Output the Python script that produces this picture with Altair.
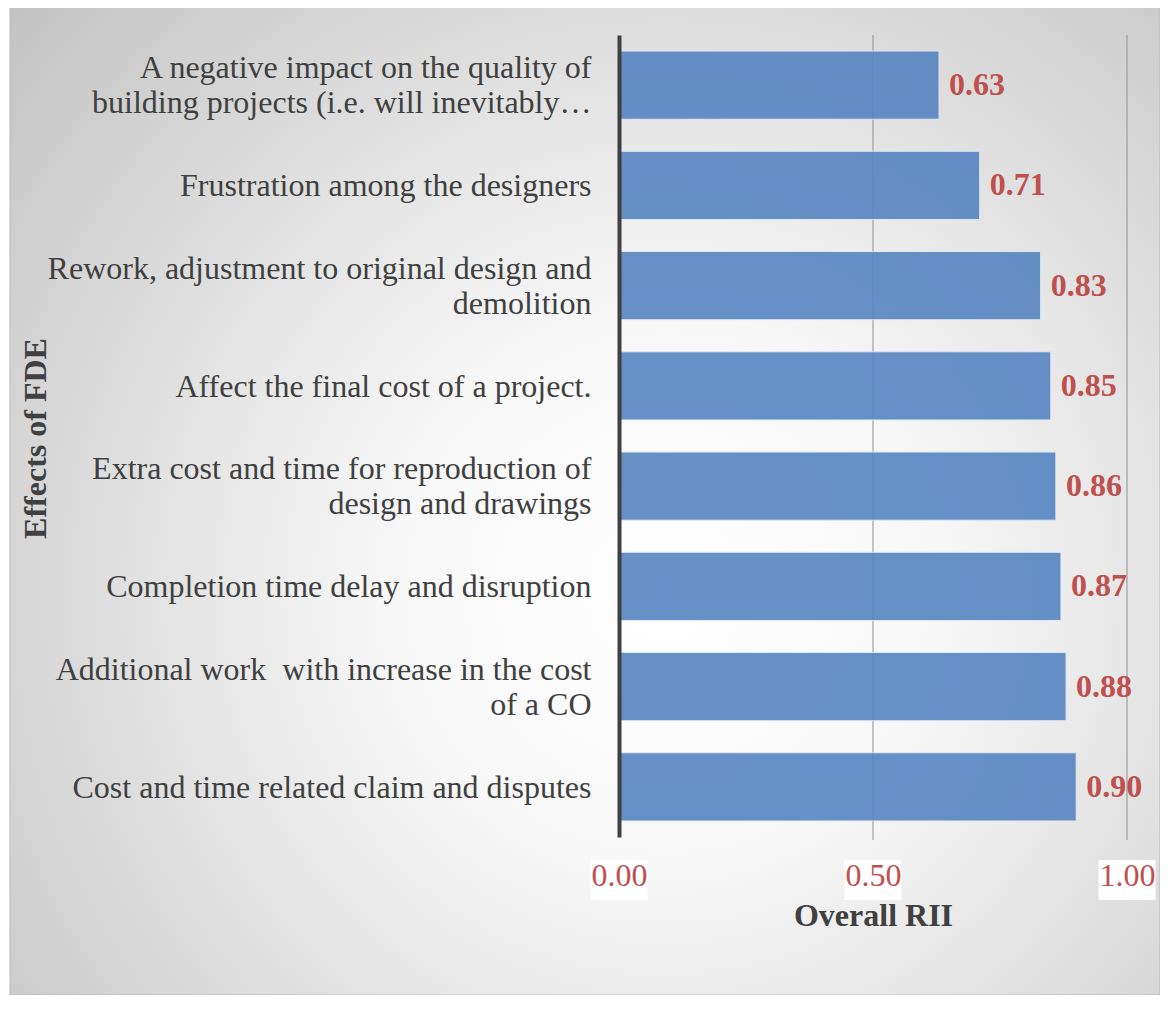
import altair as alt
import pandas as pd

categories = [
    "A negative impact on the quality of\nbuilding projects (i.e. will inevitably…",
    "Frustration among the designers",
    "Rework, adjustment to original design and\ndemolition",
    "Affect the final cost of a project.",
    "Extra cost and time for reproduction of\ndesign and drawings",
    "Completion time delay and disruption\u00a0",
    "Additional work\u00a0 with increase in the cost\nof a CO",
    "Cost and time related claim and disputes\u00a0",
]
rii = [0.63, 0.71, 0.83, 0.85, 0.86, 0.87, 0.88, 0.90]
tick_values = [0.0, 0.5, 1.0]
grid_values = [0.5, 1.0]

W, H = 508, 802
FONT = "Liberation Serif"
FS = 32
DARK = "#404040"
RED = "#c0504d"

df = pd.DataFrame({"effect": categories, "rii": rii})
xscale = alt.Scale(domain=[0, 1], nice=False)
yscale = alt.Scale(paddingInner=0.32, paddingOuter=0.16)

xaxis = alt.Axis(
    title="Overall RII",
    values=tick_values,
    format=".2f",
    domain=False,
    ticks=False,
    grid=False,
    labelFont=FONT,
    labelFontSize=FS,
    labelColor=RED,
    labelPadding=23,
    labelFlush=False,
    labelOverlap=False,
    titleFont=FONT,
    titleFontSize=FS,
    titleFontWeight="bold",
    titleColor=DARK,
    titlePadding=9,
    zindex=1,
)
yaxis = alt.Axis(
    title="Effects of FDE",
    domain=True,
    domainColor=DARK,
    domainWidth=4,
    ticks=False,
    grid=False,
    labelFont=FONT,
    labelFontSize=FS,
    labelColor=DARK,
    labelPadding=28,
    labelLimit=2000,
    labelLineHeight=35,
    labelExpr="split(datum.value, '\\n')",
    labelOffset={
        "condition": {"test": "indexof(datum.value, '\\n') >= 0", "value": -17},
        "value": 1,
    },
    titleFont=FONT,
    titleFontSize=FS,
    titleFontWeight="bold",
    titleColor=DARK,
    titleX=-584,
    titleY=H / 2 + 2,
    titleAngle=270,
    titleAlign="center",
    titleBaseline="middle",
    zindex=1,
)

bg = alt.Chart(alt.Data(values=[{}])).mark_rect(
    fill={
        "gradient": "radial",
        "x1": 0.57, "y1": 0.58, "r1": 0,
        "x2": 0.57, "y2": 0.58, "r2": 0.8,
        "stops": [
            {"offset": 0, "color": "#ffffff"},
            {"offset": 0.3, "color": "#f7f7f7"},
            {"offset": 1, "color": "#bfbfbf"},
        ],
    },
    stroke="#b8b8b8",
    strokeWidth=1,
).encode(x=alt.value(-609), x2=alt.value(W + 33), y=alt.value(-29), y2=alt.value(H + 158))

grid = alt.Chart(pd.DataFrame({"rii": grid_values})).mark_rule(
    color="#8f8f8f", strokeWidth=1
).encode(
    x=alt.X("rii:Q", scale=xscale, axis=xaxis),
    y=alt.value(0),
    y2=alt.value(H + 3),
)

boxes = alt.Chart(pd.DataFrame({"rii": tick_values})).mark_point(
    shape="M-1,-0.7L1,-0.7L1,0.7L-1,0.7Z",
    size=57 * 57,
    filled=True,
    fill="white",
    opacity=1,
    strokeWidth=0,
).encode(x=alt.X("rii:Q", scale=xscale, axis=xaxis), y=alt.value(845))

bars = alt.Chart(df).mark_bar(
    color="#5685c1", opacity=0.9, stroke="#dfe8f4", strokeWidth=1
).encode(
    y=alt.Y("effect:N", sort=None, scale=yscale, axis=yaxis),
    x=alt.X("rii:Q", scale=xscale, axis=xaxis),
)

text = alt.Chart(df).mark_text(
    align="left", baseline="middle", dx=10,
    font=FONT, fontSize=FS, fontWeight="bold", color=RED,
).encode(
    y=alt.Y("effect:N", sort=None, scale=yscale, axis=yaxis),
    x=alt.X("rii:Q", scale=xscale, axis=xaxis),
    text=alt.Text("rii:Q", format=".2f"),
)

chart = alt.layer(bg, grid, boxes, bars, text).properties(
    width=W,
    height=H,
    autosize=alt.AutoSizeParams(type="none"),
    padding={"left": 611, "top": 27, "right": 33, "bottom": 158},
    background="white",
).configure_view(stroke=None)

chart.save("out.html", embed_options={"renderer": "svg", "actions": False})
